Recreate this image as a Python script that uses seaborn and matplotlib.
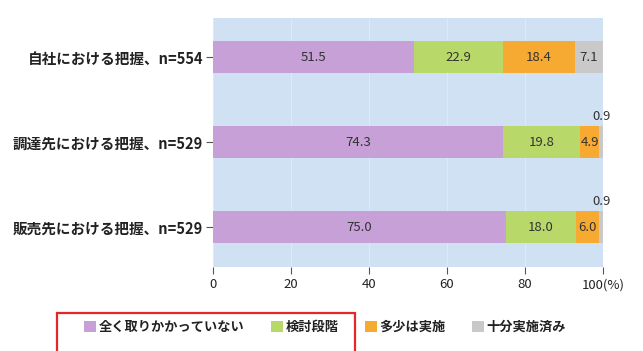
import numpy as np
import pandas as pd
import seaborn as sns
from matplotlib import pyplot as plt
from matplotlib.patches import Patch, Rectangle

# データ
categories = ['自社における把握、n=554', '調達先における把握、n=529', '販売先における把握、n=529']
series_names = ['全く取りかかっていない', '検討段階', '多少は実施', '十分実施済み']
v_none = [51.5, 74.3, 75.0]
v_study = [22.9, 19.8, 18.0]
v_some = [18.4, 4.9, 6.0]
v_full = [7.1, 0.9, 0.9]
colors = ['#c6a0d6', '#b8d96a', '#f6aa32', '#c9c9c9']

df = pd.DataFrame({'cat': categories, series_names[0]: v_none, series_names[1]: v_study,
                   series_names[2]: v_some, series_names[3]: v_full})

sns.set_style('white')
plt.rcParams['font.family'] = ['Noto Sans CJK JP', 'DejaVu Sans']

fig = plt.figure(figsize=(6.43, 3.51), dpi=100)
ax = fig.add_axes([0.331, 0.239, 0.607, 0.71])
ax.set_facecolor('#cfe1f2')

# 積み上げ（累積を大きい順に描く）
cum = df[series_names].cumsum(axis=1)
for i in range(len(series_names) - 1, -1, -1):
    sns.barplot(x=cum[series_names[i]], y=df['cat'], orient='h', color=colors[i],
                width=0.38, saturation=1, ax=ax, edgecolor='none')

# 数値ラベル
starts = cum - df[series_names]
for r in range(len(categories)):
    for i, s in enumerate(series_names):
        val = df.loc[r, s]
        xc = starts.loc[r, s] + val / 2
        if val < 1.5:
            ax.text(99.6, r - 0.3, f'{val:.1f}', ha='center', va='center', fontsize=9.5, color='#333333')
        else:
            ax.text(xc, r, f'{val:.1f}', ha='center', va='center', fontsize=9.5, color='#333333')

ax.set_xlim(0, 100)
ax.set_ylim(2.47, -0.46)
ax.set_xticks([0, 20, 40, 60, 80, 100])
ax.set_xticklabels(['0', '20', '40', '60', '80', '100(%)'], fontsize=9.5, color='#333333')
ax.tick_params(axis='y', labelsize=10.5, length=5, width=0.8, colors='#555555', left=True, pad=2)
ax.tick_params(axis='x', length=5, width=0.8, colors='#555555', bottom=True, pad=3)
for lab in ax.get_yticklabels():
    lab.set_color('#222222')
    lab.set_fontweight('bold')
for lab in ax.get_xticklabels():
    lab.set_color('#222222')
ax.set_xlabel('')
ax.set_ylabel('')
sns.despine(ax=ax, left=True, bottom=True, top=True, right=True)
ax.xaxis.grid(True, color='#dde9f5', linewidth=0.8)
ax.set_axisbelow(True)

# 凡例
handles = [Patch(facecolor=c, edgecolor='none') for c in colors]
leg = fig.legend(handles, series_names, loc='center', bbox_to_anchor=(0.506, 0.068), ncol=4,
                 frameon=False, fontsize=9.5, handlelength=0.9, handleheight=0.9,
                 handletextpad=0.2, columnspacing=2.0)
for t in leg.get_texts():
    t.set_color('#222222')
    t.set_fontweight('bold')

fig.patches.append(Rectangle((0.089, -0.02), 0.463, 0.128, transform=fig.transFigure,
                             fill=False, edgecolor='#e8262a', linewidth=1.6))

fig.savefig('out.png', dpi=100)
